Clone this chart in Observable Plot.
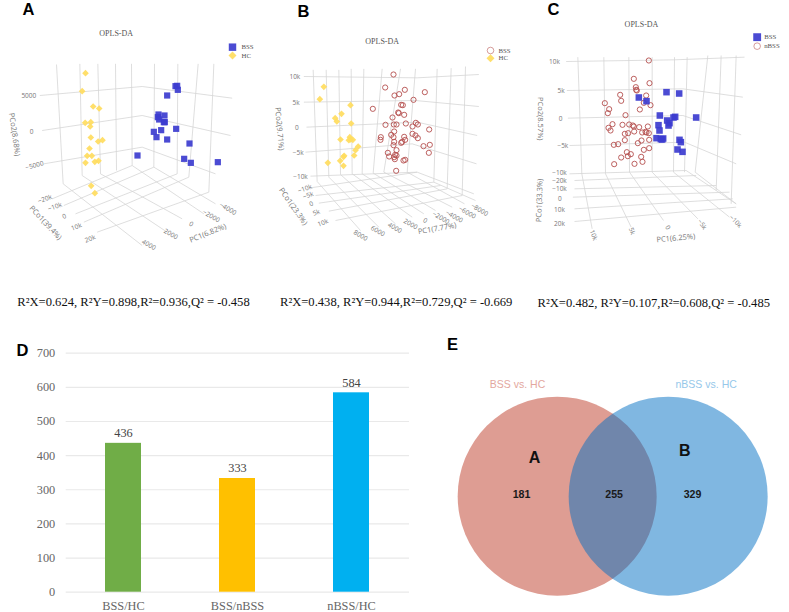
<!DOCTYPE html>
<html><head><meta charset="utf-8">
<script src="https://cdn.jsdelivr.net/npm/d3@7"></script>
<script src="https://cdn.jsdelivr.net/npm/@observablehq/plot@0.6"></script>
<style>
html,body{margin:0;padding:0;background:#fff;width:789px;height:612px;overflow:hidden}
.p{position:absolute}
.p svg{display:block}
</style></head><body>
<div id="root"></div>
<script>
const SERIF = "'Liberation Serif','Times New Roman',serif";
const SANS = "'Liberation Sans',Arial,sans-serif";
const TICK = "'Open Sans','Noto Sans',sans-serif";
const grid = "#d6d6d6", blue = "#3c3ccf", yellow = "#ffdc5e", red = "#b5504f";

// ---- Panel A: projected scores ----
const aBSS = [[525,257],[530,256],[532,268],[500,285],[474,342],[492,345],[472,350],[476,357],[490,365],[493,365],[527,385],[482,389],[460,394],[468,410],[500,417],[567,429],[411,465],[551,475],[571,487],[652,485]];
const aHC = [[255,218],[245,272],[278,318],[296,324],[254,367],[271,365],[269,378],[271,411],[306,419],[293,423],[267,444],[260,466],[274,466],[255,487],[283,484],[294,481],[272,556],[283,578]];
const aFrame = [[168,192,188,550],[238,190,245,525],[292,190,300,520],[345,190,348,510],[393,190,395,495],[462,190,460,500],[532,190,530,520],[593,190,565,530],[640,190,625,575],
 [118,285,425,258],[425,258,695,293],[125,390,425,345],[425,345,690,405],[130,490,425,440],[425,440,645,520],
 [188,550,425,735],[245,525,500,695],[300,520,545,655],[395,495,610,640],[460,500,645,610],
 [155,595,395,495],[190,615,460,500],[225,640,530,520],[250,665,565,530],[290,695,625,575]];
const aTicks = [["5000",85,287,0],["0",93,393,0],["−5000",102,495,-15],["−20k",133,596,-20],["−10k",163,619,-20],["0",191,648,-20],["10k",228,679,-20],["20k",269,715,-20],["4000",445,733,30],["2000",511,701,30],["0",572,671,30],["−2000",632,647,30],["−4000",682,625,30]];
const aTitles = [["PCo2(8.68%)",42,402,82],["PCo1(39.4%)",135,667,47],["PC1(6.82%)",622,698,-22]];

// ---- Panel B ----
const bHC = [[190,259],[178,296],[270,314],[243,340],[224,353],[229,363],[272,369],[240,417],[268,410],[270,417],[277,418],[265,419],[293,438],[285,449],[281,465],[251,466],[249,469],[239,481],[202,487],[249,496]];
const bBSS = [[399,222],[374,261],[402,285],[416,281],[433,268],[493,275],[459,298],[337,325],[422,313],[427,314],[413,336],[415,338],[431,343],[396,351],[375,373],[400,372],[408,372],[436,369],[466,367],[456,378],[472,372],[506,387],[456,400],[465,405],[472,413],[361,410],[360,418],[392,403],[401,393],[399,410],[431,409],[434,418],[425,424],[422,427],[401,424],[399,434],[408,449],[382,457],[386,468],[404,463],[408,465],[401,470],[403,476],[429,480],[434,478],[489,437],[508,433],[505,457],[407,511]];
const bFrame = [[158,208,170,543],[197,208,205,530],[235,208,240,522],[272,205,275,520],[310,205,305,520],[365,205,338,518],[420,205,370,515],[465,205,440,515],[530,205,520,545],[572,203,560,565],[615,198,605,585],
 [130,228,470,232],[470,232,655,222],[130,305,465,300],[465,300,655,318],[138,380,470,365],[470,365,650,405],[135,455,455,430],[455,430,648,490],[150,527,470,515],[470,515,640,580],
 [170,543,300,690],[205,530,355,680],[240,522,405,670],[275,520,455,650],[305,520,490,640],[338,518,525,630],[370,515,575,620],[440,515,612,610],[520,545,645,600],
 [150,562,470,515],[165,585,520,545],[175,608,540,555],[205,632,560,565],[225,660,605,585]];
const bTicks = [["10k",103,228,0],["5k",107,306,0],["0",109,382,0],["−5k",113,457,0],["−10k",120,529,0],["−10k",133,565,-20],["−5k",143,585,-20],["0",152,610,-20],["5k",168,636,-20],["10k",187,667,-20],["8000",300,705,30],["6000",352,692,30],["4000",403,682,30],["2000",450,671,30],["0",494,660,30],["−2000",541,652,30],["−4000",581,648,30],["−6000",620,636,30],["−8000",657,628,30]];
const bTitles = [["PCo2(9.71%)",57,385,85],["PCo1(23.3%)",98,618,55],["PC1(7.77%)",530,684,-10]];

// ---- Panel C ----
const cBSS = [[441,275],[479,279],[358,291],[381,302],[421,345],[530,351],[467,349],[462,351],[443,360],[450,368],[447,375],[417,374],[420,390],[411,413],[424,416],[431,414],[428,417],[480,418],[484,425],[474,447],[489,454]];
const cNBSS = [[388,180],[343,235],[390,248],[349,260],[350,268],[352,270],[380,285],[302,283],[305,301],[256,308],[373,307],[393,314],[269,326],[265,338],[361,327],[318,344],[279,371],[309,373],[329,372],[340,375],[343,378],[267,382],[273,390],[359,380],[385,378],[344,393],[326,398],[316,400],[368,396],[378,394],[381,396],[388,398],[316,419],[366,420],[389,418],[355,428],[283,433],[296,431],[389,443],[373,448],[322,455],[334,461],[325,467],[305,471],[365,469],[369,484],[345,490],[284,491]];
const cFrame = [[175,170,187,520],[253,170,258,520],[328,170,330,515],[398,170,398,515],[465,170,462,515],[503,170,495,515],[565,165,527,515],[605,165,590,570],[650,165,635,610],
 [140,183,465,178],[465,178,675,170],[142,270,490,265],[490,265,670,290],[145,353,490,345],[490,345,665,403],[150,435,495,425],[495,425,650,490],[150,520,500,510],[500,510,650,610],
 [165,540,530,525],[165,565,590,555],[160,590,630,575],[165,625,640,595],[165,663,650,620],
 [187,520,218,685],[258,520,335,680],[330,515,432,660],[398,515,535,655],[462,515,630,650],[527,515,650,610]];
const cTicks = [["10k",105,183,0],["5k",125,271,0],["0",123,355,0],["−5k",130,437,0],["−10k",120,518,0],["−20k",120,541,0],["−10k",120,565,0],["0",121,594,0],["10k",120,628,0],["20k",120,669,0],["10k",222,704,70],["5k",337,692,70],["0",445,681,60],["−5k",548,672,55],["−10k",648,663,45]];
const cTitles = [["PCo2(8.57%)",63,355,90],["PCo1(33.3%)",60,600,-88],["PC1(6.25%)",469,713,-5]];

// ---- Panel D ----
const comparisons = ["BSS/HC","BSS/nBSS","nBSS/HC"];
const counts = [436,333,584];
const barColors = ["#70ad47","#ffc000","#00b0f0"];
const yTicks = [0,100,200,300,400,500,600,700];

// ---- Panel E ----
const vennSets = [["BSS vs. HC",380,497,"#de9d93",1],["nBSS vs. HC",713,497,"#016fc3",0.5]];
const vennLabels = [["BSS vs. HC",261,162,"#e3a79e"],["nBSS vs. HC",827,162,"#96c8ea"]];
const vennLetters = [["A",312,382],["B",763,362]];
const vennCounts = [["181",273,492],["255",551,492],["329",786,492]];

// ---- Page annotations ----
const letters = [["A",28,9],["B",303,11],["C",553,9],["D",22,350],["E",452,344]];
const fits = [["R²X=0.624, R²Y=0.898,R²=0.936,Q² = -0.458",133,301.5],["R²X=0.438, R²Y=0.944,R²=0.729,Q² = -0.669",395.7,301.5],["R²X=0.482, R²Y=0.107,R²=0.608,Q² = -0.485",653.3,302.5]];

const root = document.getElementById("root");
function place(svg,left,top){const d=document.createElement("div");d.className="p";d.style.left=left+"px";d.style.top=top+"px";d.appendChild(svg);root.appendChild(d);}
const px = a=>a[0], py = a=>a[1];

function scatter(cfg){
  const marks=[
    Plot.link(cfg.frame,{x1:d=>d[0],y1:d=>d[1],x2:d=>d[2],y2:d=>d[3],stroke:grid,strokeWidth:0.8}),
    Plot.text(cfg.ticks,{text:d=>d[0],x:d=>d[1],y:d=>d[2],rotate:d=>d[3],fontFamily:TICK,fontSize:6.5,fill:"#777"}),
    Plot.text(cfg.titles,{text:d=>d[0],x:d=>d[1],y:d=>d[2],rotate:d=>d[3],fontFamily:TICK,fontSize:7.5,fill:"#777"}),
    Plot.text(["OPLS-DA"],{text:d=>d,x:cfg.title[0],y:cfg.title[1],fontFamily:SERIF,fontSize:8,fill:"#555"})
  ];
  for(const s of cfg.series){
    const o=s.ring?{stroke:s.color,fill:"none",strokeWidth:1,r:2.6,symbol:"circle",strokeOpacity:.9}
      :{fill:s.color,r:s.r,symbol:s.symbol,fillOpacity:.92};
    marks.push(Plot.dot(s.data,{x:px,y:py,...o}));
    const lo=s.ring?{...o,strokeWidth:.8,r:3.3,strokeOpacity:.7}:{...o,r:s.r*1.2};
    marks.push(Plot.dot([s.legend],{x:px,y:py,...lo}));
    marks.push(Plot.text([s.legend],{x:d=>d[0]+cfg.legendDx,y:py,text:()=>s.name,textAnchor:"start",fontFamily:SERIF,fontSize:6.8,fill:"#555"}));
  }
  return Plot.plot({width:270,height:320,margin:0,style:{background:"transparent"},
    x:{domain:[0,810],axis:null},y:{domain:[960,0],axis:null},marks});
}

place(scatter({frame:aFrame,ticks:aTicks,titles:aTitles,title:[347,100],legendDx:27,series:[
  {data:aHC,name:"HC",color:yellow,symbol:"diamond2",r:3,legend:[696,165]},
  {data:aBSS,name:"BSS",color:blue,symbol:"square",r:3.5,legend:[696,140]}]}),0,0);
place(scatter({frame:bFrame,ticks:bTicks,titles:bTitles,title:[365,123],legendDx:24,series:[
  {data:bHC,name:"HC",color:yellow,symbol:"diamond2",r:3,legend:[690,173]},
  {data:bBSS,name:"BSS",color:red,ring:true,legend:[690,150]}]}),260,0);
place(scatter({frame:cFrame,ticks:cTicks,titles:cTitles,title:[366,73],legendDx:21,series:[
  {data:cNBSS,name:"nBSS",color:red,ring:true,legend:[713,137]},
  {data:cBSS,name:"BSS",color:blue,symbol:"square",r:3.7,legend:[713,110]}]}),519,0);

// bar chart
const bars = comparisons.map((c,i)=>({c,n:counts[i],color:barColors[i]}));
place(Plot.plot({width:420,height:282,marginLeft:65.7,marginRight:11,marginTop:22.7,marginBottom:20.3,style:{background:"transparent"},
  x:{domain:comparisons,paddingInner:0.686,paddingOuter:0.343,label:null},y:{domain:[0,700],label:null},
  marks:[
    Plot.ruleY(yTicks,{stroke:"#e9e9e9",strokeWidth:1.2}),
    Plot.barY(bars,{x:"c",y:"n",fill:"color"}),
    Plot.text(bars,{x:"c",y:"n",text:d=>String(d.n),dy:-10,fontFamily:SERIF,fontSize:12.3,fill:"#444"}),
    Plot.axisY({ticks:yTicks,tickSize:0,tickPadding:11,label:null,fontFamily:SERIF,fontSize:12.3,color:"#666"}),
    Plot.axisX({tickSize:0,tickPadding:9,label:null,fontFamily:SERIF,fontSize:12.3,color:"#666"})
  ]}),0,330);

// venn
place(Plot.plot({width:359,height:282,margin:0,style:{background:"transparent"},
  x:{domain:[0,1077],axis:null},y:{domain:[846,0],axis:null},
  marks:[
    ...vennSets.map(s=>Plot.dot([s],{x:d=>d[1],y:d=>d[2],r:99.5,fill:d=>d[3],fillOpacity:s[4]})),
    Plot.text(vennLabels,{text:d=>d[0],x:d=>d[1],y:d=>d[2],fill:d=>d[3],fontFamily:SANS,fontSize:10.5}),
    Plot.text(vennLetters,{text:d=>d[0],x:d=>d[1],y:d=>d[2],fill:"#111",fontFamily:SANS,fontWeight:"bold",fontSize:16}),
    Plot.text(vennCounts,{text:d=>d[0],x:d=>d[1],y:d=>d[2],fill:"#1a1a1a",fontFamily:SANS,fontWeight:"bold",fontSize:10.6})
  ]}),430,330);

// overlay
place(Plot.plot({width:789,height:612,margin:0,style:{background:"transparent"},
  x:{domain:[0,789],axis:null},y:{domain:[612,0],axis:null},
  marks:[
    Plot.text(letters,{text:d=>d[0],x:d=>d[1],y:d=>d[2],fill:"#000",fontFamily:SANS,fontWeight:"bold",fontSize:16.5}),
    Plot.text(fits,{text:d=>d[0],x:d=>d[1],y:d=>d[2],fill:"#111",fontFamily:SERIF,fontSize:12.6})
  ]}),0,0);
</script>
</body></html>
